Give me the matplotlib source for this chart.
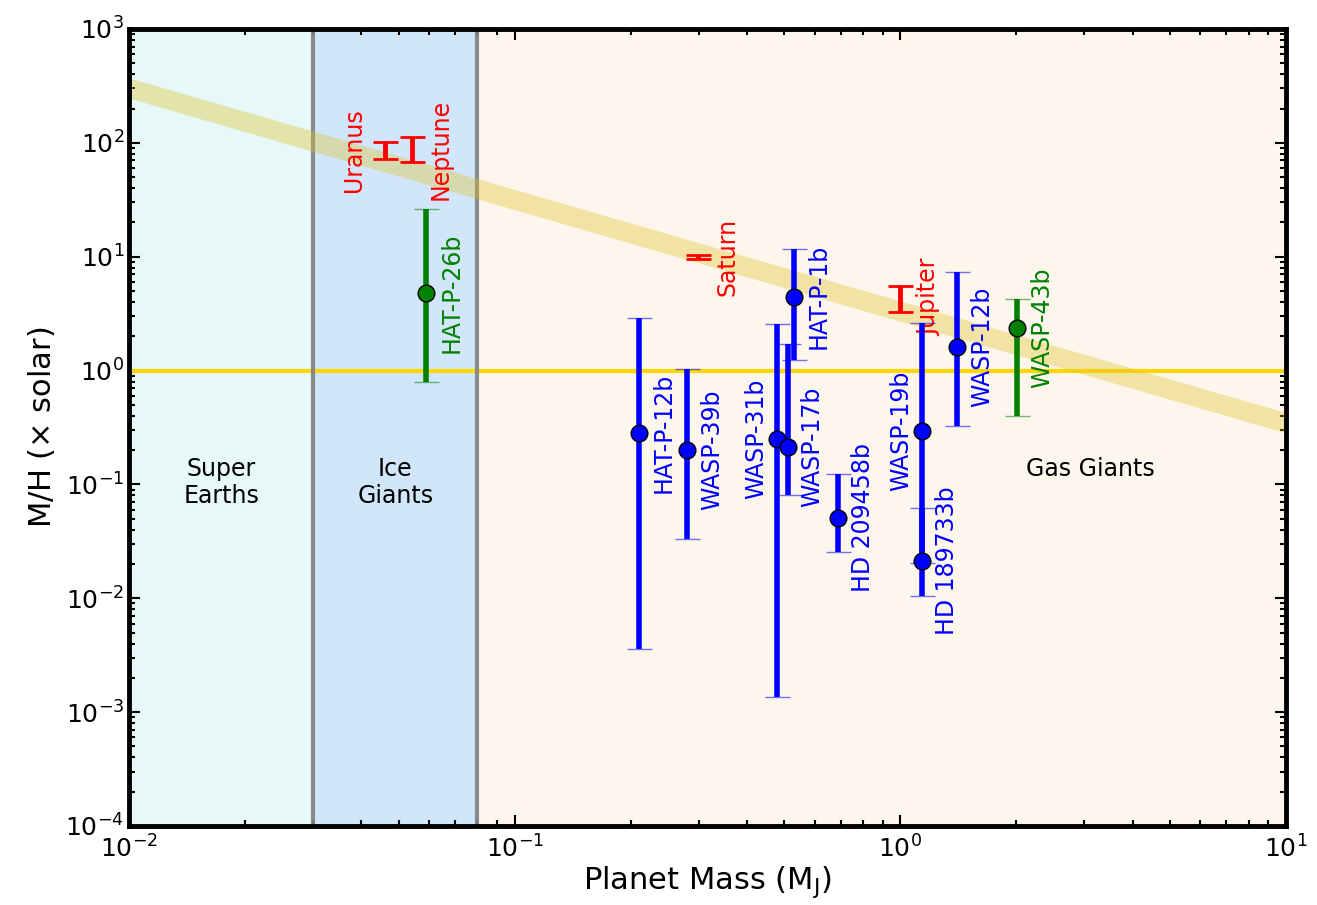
import numpy as np
import matplotlib.pyplot as plt

# Solar system giants: mass (M_J) and C/H enrichment relative to solar
solar_names = ["Jupiter", "Saturn", "Uranus", "Neptune"]
solar_mass = [1.0, 0.299, 0.046, 0.054]
solar_mh = [4.4, 9.9, 86, 88]
solar_low = [3.3, 9.5, 72, 68]
solar_high = [5.5, 10.3, 101, 112]

# Transiting exoplanets with retrieved metallicities
exo_names = ["HAT-P-26b", "HAT-P-12b", "WASP-39b", "WASP-31b", "WASP-17b",
             "HAT-P-1b", "HD 209458b", "WASP-19b", "HD 189733b", "WASP-12b",
             "WASP-43b"]
exo_mass = [0.059, 0.21, 0.28, 0.48, 0.51, 0.53, 0.69, 1.14, 1.14, 1.40, 2.01]
exo_mh = [4.8, 0.285, 0.20, 0.25, 0.213, 4.46, 0.051, 0.294, 0.0213, 1.60, 2.38]
exo_low = [0.79, 0.0036, 0.033, 0.00136, 0.080, 1.23, 0.0254, 0.0203, 0.0105,
           0.328, 0.40]
exo_high = [26.4, 2.91, 1.03, 2.56, 1.70, 11.7, 0.124, 2.63, 0.062, 7.35, 4.25]

green_planets = ["HAT-P-26b", "WASP-43b"]
left_labels = ["WASP-31b", "WASP-19b", "Uranus"]

# mass-metallicity trend of the solar system: M/H = a * M^b
trend_a = 3.3
trend_b = -0.98

regions = [("Super\nEarths", 0.01, 0.03, "#e6f8f8"),
           ("Ice\nGiants", 0.03, 0.08, "#d1e6fa"),
           ("Gas Giants", 0.08, 10, "#fdf6ed")]

plt.rcParams['font.family'] = ['DejaVu Sans']
fig = plt.figure(figsize=(13.17, 9.05), dpi=100)
ax = fig.add_axes([0.098, 0.0873, 0.8785, 0.8807])
ax.set_xscale('log')
ax.set_yscale('log')
ax.set_xlim(1e-2, 1e1)
ax.set_ylim(1e-4, 1e3)

for name, x0, x1, col in regions:
    ax.axvspan(x0, x1, color=col, zorder=0, lw=0)
    ax.text(np.sqrt(x0 * x1) if x1 < 1 else 3.1, 0.175, name, ha='center',
            va='top', fontsize=17, linespacing=1.15, zorder=1)
for xb in [0.03, 0.08]:
    ax.axvline(xb, color='#808080', lw=3, alpha=0.9, zorder=3)

ax.axhline(1.0, color='#ffd700', lw=3, zorder=2)

xfit = np.logspace(-2, 1, 50)
ax.plot(xfit, trend_a * xfit ** trend_b, color='#e0c020', alpha=0.35,
        lw=14, solid_capstyle='butt', zorder=4)

# solar system planets
for name, m, v, lo, hi in zip(solar_names, solar_mass, solar_mh,
                              solar_low, solar_high):
    ax.errorbar([m], [v], yerr=[[v - lo], [hi - v]], fmt='none',
                ecolor='red', elinewidth=3.5, capsize=9, capthick=2,
                zorder=5)
    dx = -22 if name in left_labels else 21
    ax.annotate(name, (m, v), xytext=(dx, 0), textcoords='offset points',
                rotation=90, ha='center', va='center', color='red',
                fontsize=17, zorder=6)

# exoplanets
for name, m, v, lo, hi in zip(exo_names, exo_mass, exo_mh, exo_low, exo_high):
    col = 'green' if name in green_planets else 'blue'
    eb = ax.errorbar([m], [v], yerr=[[v - lo], [hi - v]], fmt='o', color=col,
                     ecolor=col, elinewidth=4, capsize=9, capthick=1.5,
                     ms=12, mec='black', mew=1, zorder=6)
    for cap in eb[1]:
        cap.set_alpha(0.55)
    dx = -15 if name in left_labels else 18
    ax.annotate(name, (m, v), xytext=(dx, 0), textcoords='offset points',
                rotation=90, ha='center', va='center', color=col,
                fontsize=17, zorder=7)

ax.set_xlabel(r"Planet Mass (M$_\mathrm{J}$)", fontsize=22, labelpad=1)
ax.set_ylabel(r"M/H ($\times$ solar)", fontsize=22, labelpad=6)
ax.tick_params(which='both', direction='in', top=True, right=True,
               labelsize=18, width=1.5)
ax.tick_params(axis='x', which='major', pad=7)
ax.tick_params(which='major', length=8)
ax.tick_params(which='minor', length=4)
for sp in ax.spines.values():
    sp.set_linewidth(3.5)
    sp.set_zorder(10)

fig.savefig("out.png", dpi=100)
